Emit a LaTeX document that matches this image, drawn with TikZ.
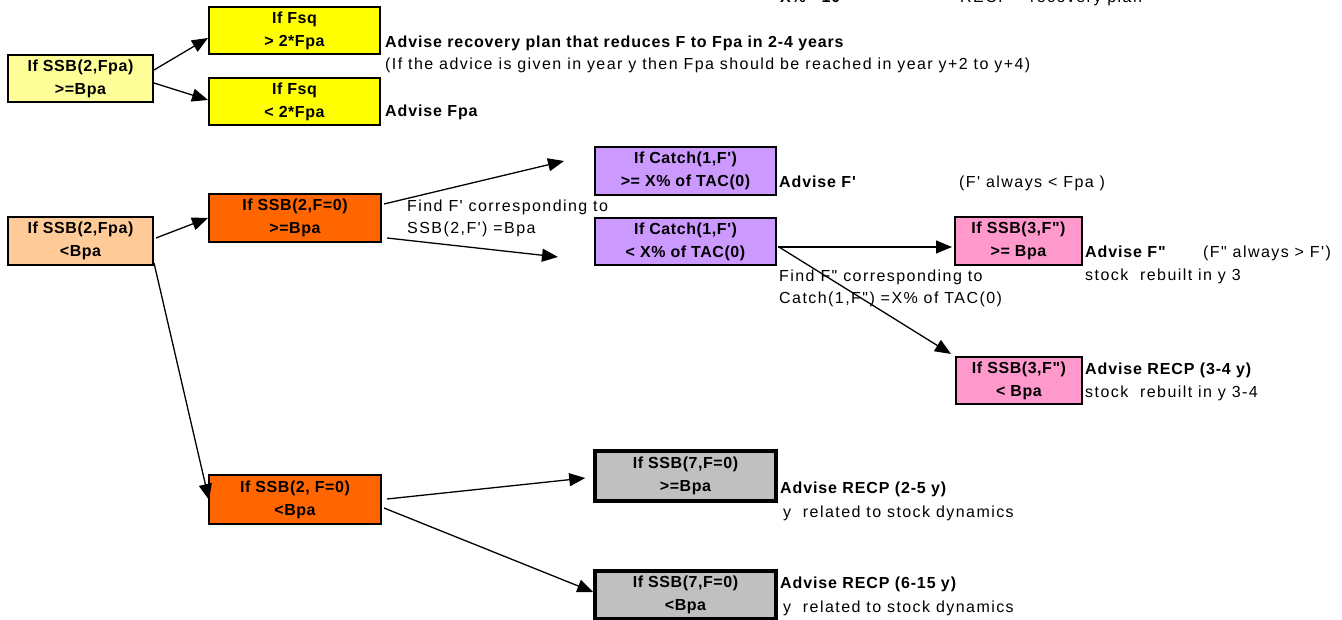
\documentclass[tikz,border=0pt]{standalone}
\usepackage{fontspec}
\setmainfont{Liberation Sans}[LetterSpace=7,BoldFeatures={LetterSpace=3.5}]
\newfontfamily\lblfont{Liberation Sans}[LetterSpace=9,BoldFeatures={LetterSpace=5.5}]
\newfontfamily\boxfont{Liberation Sans}[LetterSpace=3.5,BoldFeatures={LetterSpace=3.5}]
\usetikzlibrary{arrows.meta,calc}
\definecolor{ylight}{HTML}{FFFF99}
\definecolor{yfull}{HTML}{FFFF00}
\definecolor{olight}{HTML}{FFCC99}
\definecolor{ofull}{HTML}{FF6600}
\definecolor{purp}{HTML}{CC99FF}
\definecolor{pink}{HTML}{FF99CC}
\definecolor{grayb}{HTML}{C0C0C0}
\begin{document}
\begin{tikzpicture}[x=1pt,y=-1pt,
  box/.style={draw=black,line width=2pt,inner sep=0pt,align=center,
    font=\boxfont\fontsize{16}{23}\selectfont\bfseries},
  thickbox/.style={box,line width=3.5pt},
  arr/.style={line width=1.3pt,-{Triangle[length=16pt,width=13pt]}},
  lbl/.style={anchor=base west,inner sep=0pt,font=\lblfont\fontsize{16}{19}\selectfont},
  blbl/.style={anchor=base west,inner sep=0pt,font=\lblfont\fontsize{16}{19}\selectfont\bfseries}]
\useasboundingbox (0,0) rectangle (1342,620);

% boxes
\node[box,fill=ylight,minimum width=145pt,minimum height=47pt] (A) at (80.5,78.5) {If SSB(2,Fpa)\\>=Bpa};
\node[box,fill=yfull,minimum width=171pt,minimum height=47pt] (B) at (294.5,30.5) {If Fsq\\> 2*Fpa};
\node[box,fill=yfull,minimum width=171pt,minimum height=47pt] (C) at (294.5,101.5) {If Fsq\\< 2*Fpa};
\node[box,fill=olight,minimum width=145pt,minimum height=48pt] (D) at (80.5,241) {If SSB(2,Fpa)\\<Bpa};
\node[box,fill=ofull,minimum width=172pt,minimum height=48pt] (E) at (295,218) {If SSB(2,F=0)\\>=Bpa};
\node[box,fill=purp,minimum width=181pt,minimum height=48pt] (F) at (685.5,171) {If Catch(1,F')\\>= X\% of TAC(0)};
\node[box,fill=purp,minimum width=181pt,minimum height=47pt] (G) at (685.5,241.5) {If Catch(1,F')\\< X\% of TAC(0)};
\node[box,fill=pink,minimum width=127pt,minimum height=48pt] (H) at (1018.5,241) {If SSB(3,F")\\>= Bpa};
\node[box,fill=pink,minimum width=126pt,minimum height=47pt] (I) at (1019,380.5) {If SSB(3,F")\\< Bpa};
\node[box,fill=ofull,minimum width=172pt,minimum height=49pt] (J) at (295,499.5) {If SSB(2, F=0)\\<Bpa};
\node[thickbox,fill=grayb,minimum width=181pt,minimum height=50pt] (K) at (685.5,476) {If SSB(7,F=0)\\>=Bpa};
\node[thickbox,fill=grayb,minimum width=181pt,minimum height=48pt] (L) at (685.5,595) {If SSB(7,F=0)\\<Bpa};

% labels
\node[blbl] (t0) at (780,3) {X\% =10};
\node[lbl] (t00) at (960,3) {RECP = recovery plan};
\node[blbl] (t1) at (385,48) {Advise recovery plan that reduces F to Fpa in 2-4 years};
\node[lbl] (t2) at (385,70) {(If the advice is given in year y then Fpa should be reached in year y+2 to y+4)};
\node[blbl] (t3) at (385,117) {Advise Fpa};
\node[lbl] (t4) at (407,212) {Find F' corresponding to};
\node[lbl] (t5) at (407,234) {SSB(2,F') =Bpa};
\node[blbl] (t6) at (779,188) {Advise F'};
\node[lbl] (t7) at (959,188) {(F' always < Fpa\ )};
\node[blbl] (t8) at (1085,258) {Advise F"};
\node[lbl] (t9) at (1203,258) {(F" always > F')};
\node[lbl] (t10) at (1085,281) {stock\ \ rebuilt in y 3};
\node[lbl] (t11) at (779,282) {Find F" corresponding to};
\node[lbl] (t12) at (779,304) {Catch(1,F") =X\% of TAC(0)};
\node[blbl] (t13) at (1085,374) {Advise RECP (3-4 y)};
\node[lbl] (t14) at (1085,398) {stock\ \ rebuilt in y 3-4};
\node[blbl] (t15) at (780,493) {Advise RECP (2-5 y)};
\node[lbl] (t16) at (783,517) {y\ \ related to stock dynamics};
\node[blbl] (t17) at (780,588) {Advise RECP (6-15 y)};
\node[lbl] (t18) at (783,612) {y\ \ related to stock dynamics};

% connectors
\draw[arr] ($(A.east)+(0,-8.5)$) -- ($(B.west)+(0,7.5)$);
\draw[arr] ($(A.east)+(0,4.5)$) -- ($(C.west)+(0,-1.5)$);
\draw[arr] ($(D.east)+(2,-3)$) -- (E.west);
\draw[arr] ($(E.east)+(2,-14)$) -- ($(F.west)+(-30,-10)$);
\draw[arr] ($(E.east)+(5,20)$) -- ($(G.west)+(-36,15.5)$);
\draw[arr] ($(G.east)+(1,5.5)$) -- ($(H.west)+(-2,6)$);
\draw[arr] ($(G.east)+(2,5.5)$) -- ($(I.north west)+(-4,-2)$);
\draw[arr] ($(D.south east)+(0,-3)$) -- ($(J.west)+(1,0.5)$);
\draw[arr] ($(J.east)+(5,-0.5)$) -- ($(K.west)+(-8,2)$);
\draw[arr] ($(J.east)+(2,8.5)$) -- ($(L.west)+(0,-3)$);
\end{tikzpicture}
\end{document}
